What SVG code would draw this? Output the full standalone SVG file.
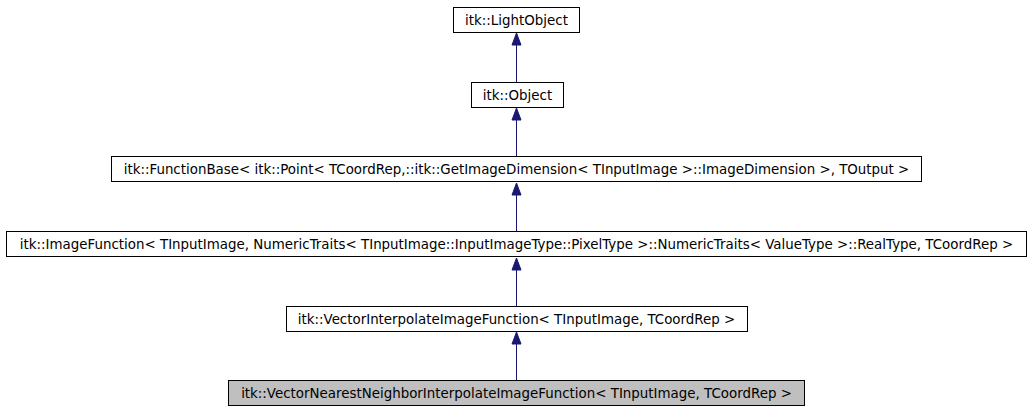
<svg xmlns="http://www.w3.org/2000/svg" width="1032" height="411" viewBox="0 0 1032 411">
<defs>
<style>
.n{fill:#fff;stroke:#000;stroke-width:1}
.h{fill:#bfbfbf;stroke:#000;stroke-width:1}
.t{font-family:"DejaVu Sans",sans-serif;font-size:13.4px;fill:#000;text-anchor:middle}
.e{stroke:#191970;stroke-width:1;fill:none}
.a{fill:#191970;stroke:#191970}
</style>
</defs>
<rect width="1032" height="411" fill="#fff"/>
<g id="connectors">
<line class="e" x1="516.5" y1="82" x2="516.5" y2="45"/><polygon class="a" points="516.5,33 521,45 512,45"/>
<line class="e" x1="516.5" y1="156" x2="516.5" y2="120"/><polygon class="a" points="516.5,108 521,120 512,120"/>
<line class="e" x1="516.5" y1="231" x2="516.5" y2="195"/><polygon class="a" points="516.5,183 521,195 512,195"/>
<line class="e" x1="516.5" y1="306" x2="516.5" y2="270"/><polygon class="a" points="516.5,258 521,270 512,270"/>
<line class="e" x1="516.5" y1="381" x2="516.5" y2="344"/><polygon class="a" points="516.5,332 521,344 512,344"/>
</g>
<g id="lightobject"><rect class="n" x="453.5" y="7.5" width="126" height="25"/><text class="t" x="516.5" y="25">itk::LightObject</text></g>
<g id="object"><rect class="n" x="471.5" y="82.5" width="92" height="25"/><text class="t" x="517.5" y="100">itk::Object</text></g>
<g id="functionbase"><rect class="n" x="111.5" y="156.5" width="810" height="25"/><text class="t" x="516.5" y="174">itk::FunctionBase&lt; itk::Point&lt; TCoordRep,::itk::GetImageDimension&lt; TInputImage &gt;::ImageDimension &gt;, TOutput &gt;</text></g>
<g id="imagefunction"><rect class="n" x="6.5" y="231.5" width="1020" height="25"/><text class="t" x="516.5" y="249">itk::ImageFunction&lt; TInputImage, NumericTraits&lt; TInputImage::InputImageType::PixelType &gt;::NumericTraits&lt; ValueType &gt;::RealType, TCoordRep &gt;</text></g>
<g id="vectorinterpolate"><rect class="n" x="286.5" y="306.5" width="461" height="25"/><text class="t" x="516.5" y="324">itk::VectorInterpolateImageFunction&lt; TInputImage, TCoordRep &gt;</text></g>
<g id="vectornearest"><rect class="h" x="228.5" y="380.5" width="576" height="25"/><text class="t" x="516.5" y="398">itk::VectorNearestNeighborInterpolateImageFunction&lt; TInputImage, TCoordRep &gt;</text></g>
</svg>
